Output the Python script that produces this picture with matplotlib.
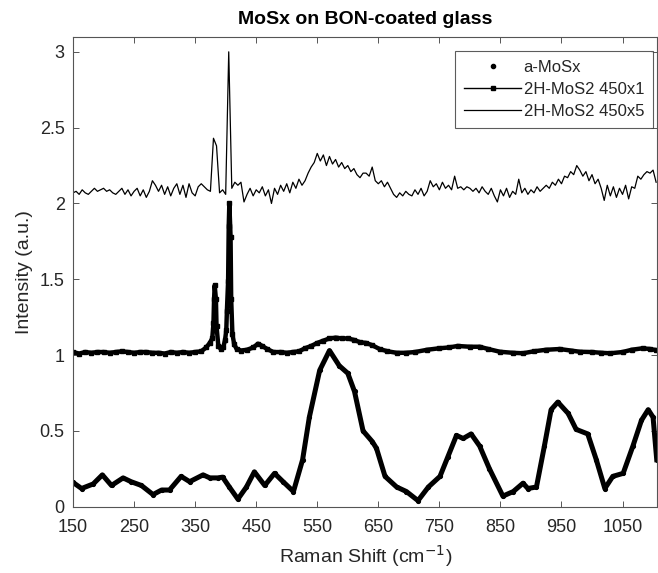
import numpy as np
import matplotlib
matplotlib.use("Agg")
import matplotlib.pyplot as plt
from matplotlib.lines import Line2D

plt.rcParams['font.family'] = ['Liberation Sans', 'DejaVu Sans']

# a-MoSx (amorphous film)
shift_a = [150, 164, 183, 198, 213, 232, 245, 262, 281, 295, 308, 327, 341, 363, 374, 387, 395,
           406, 420, 434, 447, 464, 480, 494, 511, 526, 537, 554, 570, 586, 600, 611, 625,
           640, 647, 661, 680, 696, 715, 732, 751, 764, 778, 789, 802, 816, 832, 854, 871,
           887, 895, 909, 922, 933, 944, 961, 974, 993, 1007, 1021, 1034, 1051, 1067, 1081,
           1092, 1100, 1106]
int_a = [0.16, 0.12, 0.15, 0.21, 0.14, 0.19, 0.165, 0.14, 0.08, 0.11, 0.11, 0.20, 0.165, 0.21,
         0.19, 0.19, 0.195, 0.13, 0.05, 0.13, 0.23, 0.14, 0.22, 0.165, 0.10, 0.31, 0.59, 0.90,
         1.03, 0.93, 0.88, 0.76, 0.50, 0.43, 0.385, 0.20, 0.13, 0.10, 0.04, 0.13, 0.20, 0.33,
         0.47, 0.45, 0.48, 0.40, 0.25, 0.07, 0.10, 0.155, 0.12, 0.13, 0.40, 0.64, 0.69, 0.615,
         0.51, 0.48, 0.31, 0.12, 0.20, 0.22, 0.40, 0.57, 0.64, 0.59, 0.31]

# 2H-MoS2 annealed 450, 1 cycle
shift_1 = [150, 160, 170, 180, 190, 200, 210, 220, 230, 240, 250, 260, 270, 280, 290, 300, 310,
           320, 330, 340, 350, 360, 368, 374, 378, 380, 381, 382, 384, 385, 388, 392, 396, 399,
           401, 402, 404, 405, 406, 408, 409, 411, 414, 418, 425, 435, 445, 453, 460, 468, 478,
           490, 500, 510, 520, 530, 540, 550, 560, 570, 580, 590, 600, 610, 620, 630, 640, 652,
           665, 680, 695, 710, 730, 750, 765, 780, 800, 816, 830, 849, 870, 887, 905, 925, 947,
           965, 980, 1000, 1015, 1030, 1050, 1065, 1083, 1095, 1105]
int_1 = [1.02, 1.01, 1.02, 1.015, 1.02, 1.02, 1.015, 1.02, 1.025, 1.02, 1.015, 1.02, 1.02, 1.015,
         1.015, 1.01, 1.02, 1.015, 1.02, 1.015, 1.02, 1.025, 1.05, 1.08, 1.11, 1.21, 1.37, 1.46,
         1.37, 1.19, 1.06, 1.04, 1.05, 1.10, 1.165, 1.29, 1.49, 1.85, 2.00, 1.78, 1.37, 1.14,
         1.07, 1.04, 1.03, 1.035, 1.05, 1.075, 1.06, 1.04, 1.02, 1.02, 1.015, 1.02, 1.025, 1.045,
         1.06, 1.08, 1.095, 1.11, 1.115, 1.11, 1.11, 1.10, 1.085, 1.08, 1.065, 1.04, 1.025,
         1.015, 1.015, 1.02, 1.035, 1.045, 1.05, 1.06, 1.055, 1.055, 1.04, 1.022, 1.015, 1.012,
         1.025, 1.035, 1.04, 1.03, 1.022, 1.02, 1.015, 1.012, 1.02, 1.035, 1.045, 1.04, 1.033]

# 2H-MoS2 annealed 450, 5 cycles (5 cm-1 steps)
shift_5 = np.arange(150, 1106, 5)
int_5 = [2.07, 2.08, 2.06, 2.09, 2.07, 2.06, 2.08, 2.10, 2.08, 2.09, 2.10, 2.08, 2.09, 2.07,
         2.06, 2.08, 2.10, 2.06, 2.09, 2.05, 2.08, 2.10, 2.05, 2.09, 2.04, 2.08, 2.15, 2.12,
         2.08, 2.12, 2.06, 2.11, 2.05, 2.10, 2.13, 2.06, 2.12, 2.04, 2.13, 2.07, 2.05, 2.11,
         2.13, 2.11, 2.09, 2.08, 2.43, 2.38, 2.07, 2.09, 2.06, 3.00, 2.10, 2.14, 2.12, 2.14,
         2.01, 2.06, 2.10, 2.05, 2.09, 2.07, 2.11, 2.05, 2.09, 2.00, 2.10, 2.06, 2.12, 2.08,
         2.13, 2.07, 2.14, 2.10, 2.16, 2.12, 2.15, 2.20, 2.24, 2.27, 2.33, 2.28, 2.32, 2.25,
         2.31, 2.26, 2.29, 2.24, 2.27, 2.23, 2.25, 2.21, 2.23, 2.19, 2.17, 2.20, 2.20, 2.18,
         2.24, 2.15, 2.13, 2.15, 2.11, 2.14, 2.10, 2.06, 2.04, 2.07, 2.05, 2.08, 2.06, 2.05,
         2.09, 2.06, 2.10, 2.05, 2.08, 2.15, 2.11, 2.13, 2.09, 2.14, 2.10, 2.12, 2.09, 2.18,
         2.10, 2.11, 2.09, 2.11, 2.10, 2.08, 2.10, 2.07, 2.11, 2.08, 2.06, 2.10, 2.05, 2.01,
         2.09, 2.05, 2.10, 2.04, 2.08, 2.06, 2.16, 2.07, 2.10, 2.06, 2.09, 2.07, 2.11, 2.08,
         2.10, 2.12, 2.10, 2.14, 2.12, 2.16, 2.13, 2.18, 2.17, 2.21, 2.19, 2.25, 2.22, 2.18,
         2.21, 2.15, 2.19, 2.13, 2.16, 2.10, 2.02, 2.12, 2.05, 2.11, 2.04, 2.10, 2.06, 2.12,
         2.03, 2.11, 2.10, 2.18, 2.16, 2.19, 2.21, 2.20, 2.22, 2.14]

xticks = [150, 250, 350, 450, 550, 650, 750, 850, 950, 1050]
yticks = [0, 0.5, 1, 1.5, 2, 2.5, 3]
names = ['a-MoSx', '2H-MoS2 450x1', '2H-MoS2 450x5']

fig = plt.figure(figsize=(6.58, 5.73), dpi=100)
ax = fig.add_axes([0.111, 0.1157, 0.888, 0.8203])

ax.plot(shift_a, int_a, '.-', color='k', lw=3.6, ms=5.5)
ax.plot(shift_1, int_1, 's-', color='k', lw=3.2, ms=2.5)
ax.plot(shift_5, int_5, '-', color='k', lw=0.9)

ax.set_xlim(150, 1107)
ax.set_ylim(0, 3.1)
ax.set_xticks(xticks)
ax.set_xticklabels([str(t) for t in xticks])
ax.set_yticks(yticks)
ax.set_yticklabels(['0', '0.5', '1', '1.5', '2', '2.5', '3'])

grey = '#262626'
for s in ax.spines.values():
    s.set_color('#555555')
    s.set_linewidth(0.8)
ax.tick_params(direction='in', length=4, width=0.7, colors='#555555', labelcolor=grey,
               labelsize=13, top=True, right=True)
ax.tick_params(axis='x', pad=9)
ax.tick_params(axis='y', pad=6)

ax.set_xlabel('Raman Shift (cm$^{-1}$)', fontsize=14, color=grey, labelpad=5)
ax.set_ylabel('Intensity (a.u.)', fontsize=14, color=grey, labelpad=5)
ax.set_title('MoSx on BON-coated glass', fontsize=14, fontweight='bold', pad=9)

handles = [Line2D([], [], ls='none', marker='.', color='k', ms=6),
           Line2D([], [], ls='-', marker='s', color='k', lw=1, ms=2.5),
           Line2D([], [], ls='-', color='k', lw=0.9)]
leg = ax.legend(handles, names, loc='upper right', bbox_to_anchor=(0.993, 0.97),
                fontsize=12, frameon=True, fancybox=False, handlelength=3.4,
                borderpad=0.55, labelspacing=0.42, handletextpad=0.15, borderaxespad=0)
leg.get_frame().set_edgecolor('#333333')
leg.get_frame().set_linewidth(0.8)
for t in leg.get_texts():
    t.set_color(grey)

fig.savefig('out.png', dpi=100)
